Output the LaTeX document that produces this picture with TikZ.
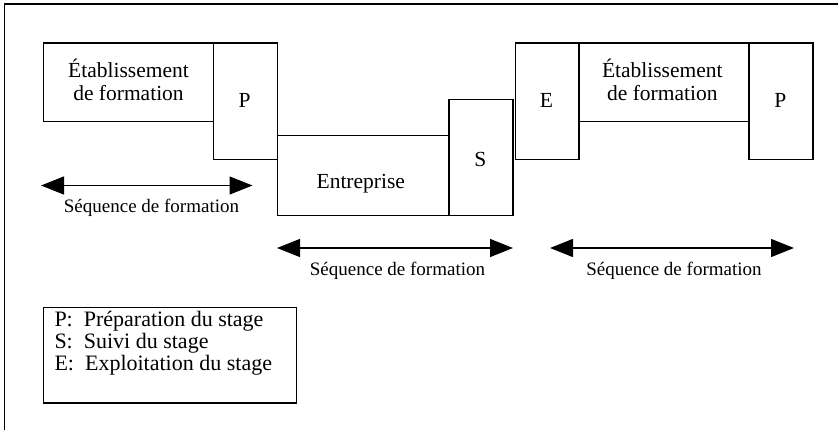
\documentclass[tikz,border=0pt]{standalone}
\usepackage{fontspec}
\setmainfont{Liberation Serif}
\usetikzlibrary{arrows.meta}
\begin{document}
\begin{tikzpicture}[x=1pt,y=-1pt,
  box/.style={draw,line width=1.4pt,inner sep=0pt,anchor=north west},
  lbl/.style={inner sep=0pt,anchor=base,font=\fontsize{21.5}{22.7}\selectfont,align=center},
  seqlbl/.style={inner sep=0pt,anchor=base,font=\fontsize{19}{21}\selectfont},
  leglbl/.style={inner sep=0pt,anchor=base west,font=\fontsize{22}{23}\selectfont},
  dbl/.style={line width=1.4pt,{Triangle[length=23pt,width=18pt]}-{Triangle[length=23pt,width=18pt]}},
  frame/.style={line width=1.3pt}]
\useasboundingbox (0,0) rectangle (838,429);
% frame
\coordinate (fbl) at (4.3,431);
\coordinate (ftl) at (4.3,4);
\coordinate (ftr) at (840,4);
\draw[frame] (fbl) -- (ftl) -- (ftr);
% boxes
\node[box,minimum width=170pt,minimum height=78.7pt] (etab1) at (42.7,42.3) {};
\node[box,minimum width=64pt,minimum height=116.4pt] (p1) at (212.7,42.3) {};
\node[box,minimum width=171.6pt,minimum height=80pt] (entr) at (276.7,135) {};
\node[box,minimum width=64pt,minimum height=116pt] (s) at (448.3,99) {};
\node[box,minimum width=63.6pt,minimum height=116.4pt] (e) at (514.7,42.3) {};
\node[box,minimum width=170pt,minimum height=78.7pt] (etab2) at (578.3,42.3) {};
\node[box,minimum width=64pt,minimum height=116.4pt] (p2) at (748.3,42.3) {};
% labels
\node[lbl] (tetab1) at (128.5,100) {Établissement\\de formation};
\node[lbl] (tp1) at (244.7,107.3) {P};
\node[lbl] (tentr) at (360.8,188.3) {Entreprise};
\node[lbl] (ts) at (480.3,166.7) {S};
\node[lbl] (te) at (546.5,107.3) {E};
\node[lbl] (tetab2) at (662.3,100) {Établissement\\de formation};
\node[lbl] (tp2) at (780.3,107.3) {P};
% arrows
\coordinate (a1l) at (41,185.5);
\coordinate (a1r) at (252.5,185.5);
\coordinate (a2l) at (277,248);
\coordinate (a2r) at (513,248);
\coordinate (a3l) at (550,248);
\coordinate (a3r) at (794,248);
\draw[dbl] (a1l) -- (a1r);
\draw[dbl] (a2l) -- (a2r);
\draw[dbl] (a3l) -- (a3r);
\node[seqlbl] (s1) at (151.5,212) {Séquence de formation};
\node[seqlbl] (s2) at (397.5,275) {Séquence de formation};
\node[seqlbl] (s3) at (674,275) {Séquence de formation};
% legend
\node[box,minimum width=253pt,minimum height=95.6pt] (leg) at (42.7,306.7) {};
\node[leglbl] (l1) at (54.3,326.7) {P:\ \ Préparation du stage};
\node[leglbl] (l2) at (54.3,348.5) {S:\ \ Suivi du stage};
\node[leglbl] (l3) at (54.3,370.5) {E:\ \ Exploitation du stage};
\end{tikzpicture}
\end{document}
